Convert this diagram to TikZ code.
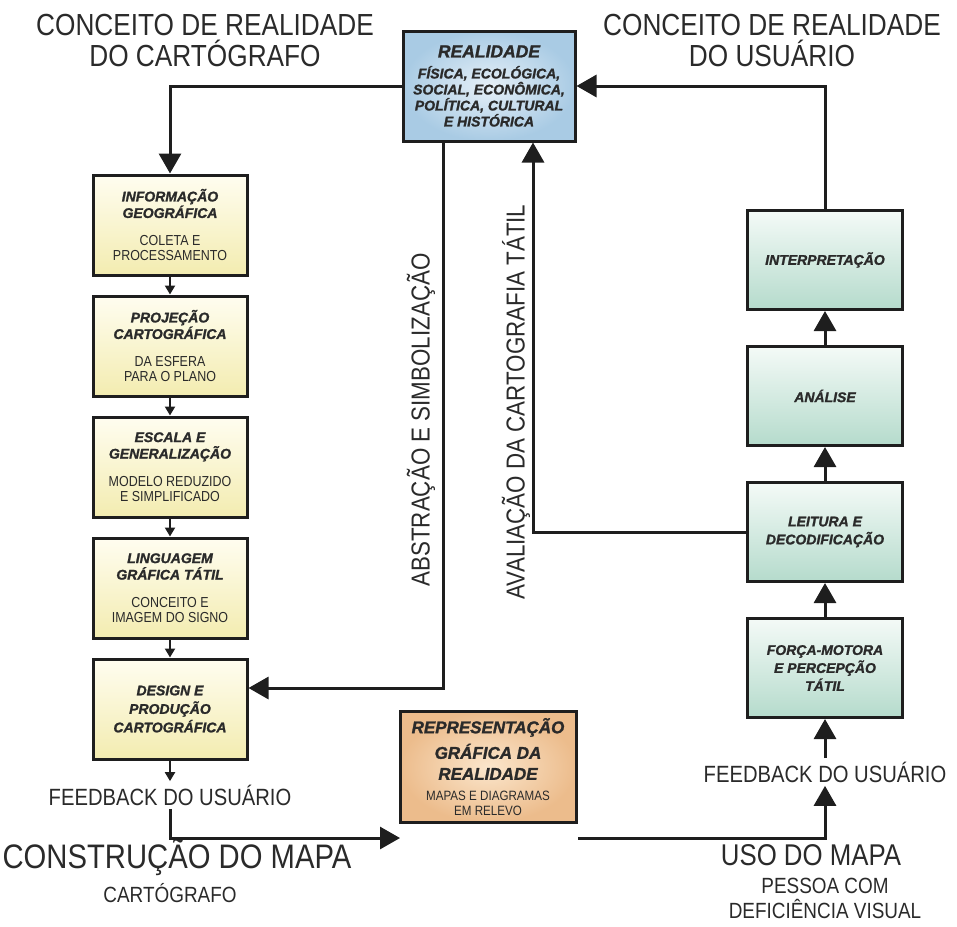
\documentclass[tikz,border=0pt]{standalone}
\usepackage{fontspec}
\setmainfont{Liberation Sans}[BoldItalicFeatures={FakeBold=1.4}]
\newfontfamily\narrowfont[FakeStretch=0.86]{Liberation Sans}
\usepackage{tikz}
\usetikzlibrary{arrows.meta,positioning}

\definecolor{inkline}{HTML}{1E1E1E}
\definecolor{realin}{HTML}{E6F0F8}
\definecolor{realout}{HTML}{A9CBE4}
\definecolor{yeltop}{HTML}{FFFDF0}
\definecolor{yelbot}{HTML}{F3ECB0}
\definecolor{grntop}{HTML}{F4FAF7}
\definecolor{grnbot}{HTML}{B5DBCC}
\definecolor{orgin}{HTML}{FBE6CC}
\definecolor{orgout}{HTML}{ECBC8C}
\definecolor{txtgray}{HTML}{2A2A2A}

\newcommand{\tit}[1]{{\rmfamily\bfseries\itshape #1}}

\begin{document}
\begin{tikzpicture}[
    x=1pt, y=-1pt,
    node distance=18pt,
    font=\narrowfont, text=txtgray,
    box/.style={rectangle, draw=inkline, line width=3pt, align=center, inner sep=2pt,
        font=\narrowfont\fontsize{14.5}{15.5}\selectfont},
    constbox/.style={box, top color=yeltop, bottom color=yelbot, minimum width=154pt, minimum height=100pt},
    usebox/.style={box, top color=grntop, bottom color=grnbot, minimum width=155pt, minimum height=99pt,
        font=\narrowfont\fontsize{14}{18}\selectfont},
    realbox/.style={box, inner color=realin, outer color=realout, minimum width=172pt, minimum height=110pt,
        font=\narrowfont\fontsize{14}{16}\selectfont},
    mapbox/.style={box, inner color=orgin, outer color=orgout, minimum width=176pt, minimum height=111pt,
        font=\narrowfont\fontsize{13.5}{15}\selectfont},
    heading/.style={align=center, font=\narrowfont\fontsize{30.5}{31}\selectfont},
    feedback/.style={font=\narrowfont\fontsize{23.5}{26}\selectfont},
    sidelabel/.style={rotate=90, font=\narrowfont\fontsize{26}{28}\selectfont},
    bigarrow/.style={draw=inkline, line width=3pt, -{Triangle[length=20pt,width=22pt]}},
    smallarrow/.style={draw=inkline, line width=2pt, -{Triangle[length=9pt,width=10pt]}}
]
\useasboundingbox (0,0) rectangle (957,926);

% realidade
\node[realbox] (real) at (489,86)
    {\tit{\fontsize{17.5}{20}\selectfont REALIDADE}\\[5pt]
     \tit{FÍSICA, ECOLÓGICA,}\\ \tit{SOCIAL, ECONÔMICA,}\\
     \tit{POLÍTICA, CULTURAL}\\ \tit{E HISTÓRICA}};

% construcao do mapa
\node[constbox] (info) at (170,225)
    {\tit{\fontsize{14}{16}\selectfont INFORMAÇÃO}\\[1pt] \tit{\fontsize{14}{16}\selectfont GEOGRÁFICA}\\[12pt] COLETA E\\PROCESSAMENTO};
\node[constbox, below=of info] (proj)
    {\tit{\fontsize{14}{16}\selectfont PROJEÇÃO}\\[1pt] \tit{\fontsize{14}{16}\selectfont CARTOGRÁFICA}\\[12pt] DA ESFERA\\PARA O PLANO};
\node[constbox, below=of proj] (escala)
    {\tit{\fontsize{14}{16}\selectfont ESCALA E}\\[1pt] \tit{\fontsize{14}{16}\selectfont GENERALIZAÇÃO}\\[12pt] MODELO REDUZIDO\\E SIMPLIFICADO};
\node[constbox, below=of escala] (ling)
    {\tit{\fontsize{14}{16}\selectfont LINGUAGEM}\\[1pt] \tit{\fontsize{14}{16}\selectfont GRÁFICA TÁTIL}\\[12pt] CONCEITO E\\IMAGEM DO SIGNO};
\node[constbox, below=of ling] (design)
    {\tit{\fontsize{14}{16}\selectfont DESIGN E}\\[3pt] \tit{\fontsize{14}{16}\selectfont PRODUÇÃO}\\[3pt] \tit{\fontsize{14}{16}\selectfont CARTOGRÁFICA}};

% uso do mapa
\node[usebox] (interp) at (825,260) {\tit{INTERPRETAÇÃO}};
\node[usebox, below=34pt of interp] (analise) {\tit{ANÁLISE}};
\node[usebox, below=34pt of analise] (leitura) {\tit{LEITURA E}\\ \tit{DECODIFICAÇÃO}};
\node[usebox, below=34pt of leitura] (forca) {\tit{FORÇA-MOTORA}\\ \tit{E PERCEPÇÃO}\\ \tit{TÁTIL}};

% representacao
\node[mapbox] (repr) at (488,767)
    {\tit{\fontsize{17}{21.5}\selectfont REPRESENTAÇÃO}\\[6pt]
     \tit{\fontsize{17}{21.5}\selectfont GRÁFICA DA}\\[6pt]
     \tit{\fontsize{17}{21.5}\selectfont REALIDADE}\\[6pt]
     MAPAS E DIAGRAMAS\\EM RELEVO};

% textos
\node[heading] (ttl) at (205,40) {CONCEITO DE REALIDADE\\DO CARTÓGRAFO};
\node[heading] (ttr) at (772,40) {CONCEITO DE REALIDADE\\DO USUÁRIO};
\node[feedback] (fbl) at (170,795) {FEEDBACK DO USUÁRIO};
\node[feedback] (fbr) at (825,772) {FEEDBACK DO USUÁRIO};
\node[sidelabel] (abst) at (421,420) {ABSTRAÇÃO E SIMBOLIZAÇÃO};
\node[sidelabel] (aval) at (516,402) {AVALIAÇÃO DA CARTOGRAFIA TÁTIL};
\node[font=\narrowfont\fontsize{34}{36}\selectfont] (constr) at (177,857) {CONSTRUÇÃO DO MAPA};
\node[font=\narrowfont\fontsize{22}{24}\selectfont] (cart) at (170,893) {CARTÓGRAFO};
\node[font=\narrowfont\fontsize{30}{32}\selectfont] (uso) at (811,855) {USO DO MAPA};
\node[align=center, font=\narrowfont\fontsize{22}{25}\selectfont] (pessoa) at (825,898)
    {PESSOA COM\\DEFICIÊNCIA VISUAL};

\coordinate (lb) at (400,838);
\coordinate (rb) at (578,838);

% conectores
\draw[bigarrow] (real.west) -| (info.north);
\draw[smallarrow] (info) -- (proj);
\draw[smallarrow] (proj) -- (escala);
\draw[smallarrow] (escala) -- (ling);
\draw[smallarrow] (ling) -- (design);
\draw[bigarrow] ([xshift=-46pt]real.south) |- ([yshift=21pt]design.east);
\draw[smallarrow] (design.south) -- (fbl.north);
\draw[bigarrow] (fbl.south) |- (lb);

\draw[bigarrow] (rb) -| (fbr.south);
\draw[bigarrow] (fbr.north) -- (forca.south);
\draw[bigarrow] (forca) -- (leitura);
\draw[bigarrow] (leitura) -- (analise);
\draw[bigarrow] (analise) -- (interp);
\draw[bigarrow] (leitura.west) -| ([xshift=44pt]real.south);
\draw[bigarrow] (interp.north) |- (real.east);

\end{tikzpicture}
\end{document}
